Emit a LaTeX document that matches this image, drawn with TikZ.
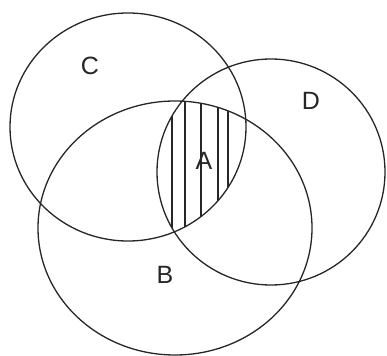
\documentclass[tikz,border=0pt]{standalone}
\usepackage{fontspec}
\setmainfont{Liberation Sans}
\begin{document}
\begin{tikzpicture}[x=1pt,y=-1pt,
  ring/.style={draw=black!85,line width=1.3pt},
  hatch/.style={draw=black!85,line width=1.2pt},
  lbl/.style={font=\fontsize{25}{25}\selectfont,text=black!85,inner sep=0pt}]
\useasboundingbox (0,0) rectangle (387,355);
\begin{scope}
  \clip (128,127) ellipse [x radius=118,y radius=114];
  \clip (271,172) ellipse [x radius=114,y radius=113];
  \clip (175,228) ellipse [x radius=137,y radius=127];
  \foreach \x in {172,185,201,218,228} \draw[hatch] (\x,0) -- (\x,355);
\end{scope}
\draw[ring] (128,127) ellipse [x radius=118,y radius=114];
\draw[ring] (271,172) ellipse [x radius=114,y radius=113];
\draw[ring] (175,228) ellipse [x radius=137,y radius=127];
\node[lbl] (c) at (90,66) {C};
\node[lbl] (d) at (311,101) {D};
\node[lbl] (a) at (204,161) {A};
\node[lbl] (b) at (165,275) {B};
\end{tikzpicture}
\end{document}
